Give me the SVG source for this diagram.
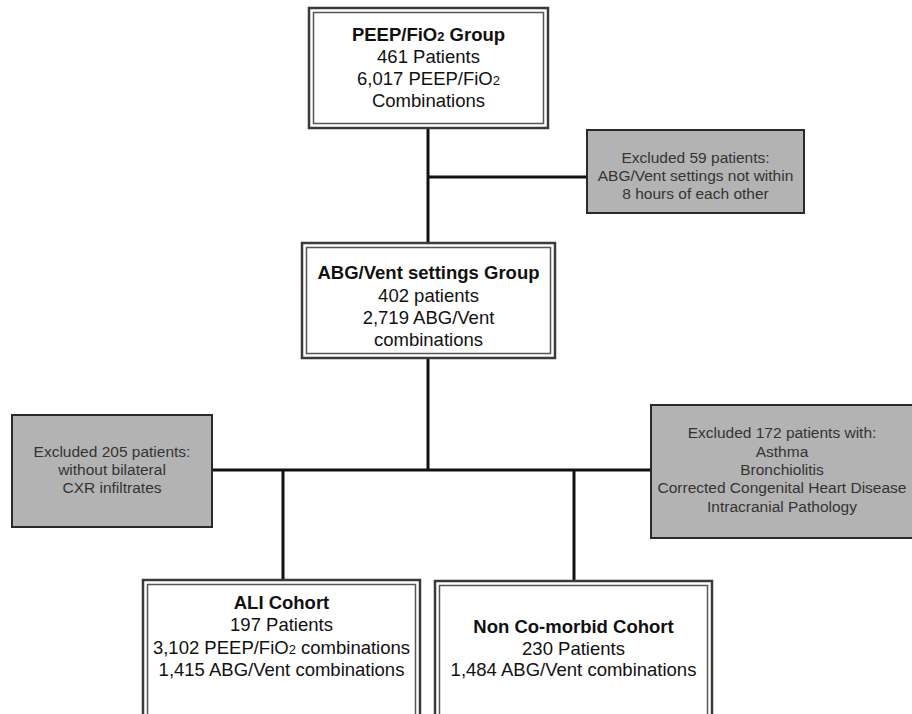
<svg xmlns="http://www.w3.org/2000/svg" width="912" height="714" viewBox="0 0 912 714">
<style>
.bg{fill:#fff}
.outer{fill:#fff;stroke:#3a3a3a;stroke-width:2.5}
.inner{fill:none;stroke:#555;stroke-width:1.5}
.gray{fill:#b3b3b3;stroke:#2a2a2a;stroke-width:2}
.t{font-family:"Liberation Sans",Arial,sans-serif;font-size:18.5px;fill:#111;text-anchor:middle}
.b{font-weight:bold}
.g{font-family:"Liberation Sans",Arial,sans-serif;font-size:15.5px;fill:#333;text-anchor:middle}
.sub{font-size:13px}
.conn{stroke:#111;stroke-width:3;fill:none}
</style>
<rect class="bg" x="0" y="0" width="912" height="714"/>
<g id="connectors">
<line class="conn" x1="428" y1="128" x2="428" y2="243"/>
<line class="conn" x1="428" y1="177" x2="587" y2="177"/>
<line class="conn" x1="428" y1="358" x2="428" y2="470"/>
<line class="conn" x1="212" y1="470" x2="651" y2="470"/>
<line class="conn" x1="283" y1="470" x2="283" y2="580"/>
<line class="conn" x1="574" y1="470" x2="574" y2="581"/>
</g>
<g id="peep">
<rect class="outer" x="309" y="8" width="239" height="120"/>
<rect class="inner" x="313.5" y="12.5" width="230" height="111"/>
<text class="t b" x="428.5" y="41">PEEP/FiO<tspan class="sub">2</tspan> Group</text>
<text class="t" x="428.5" y="63">461 Patients</text>
<text class="t" x="428.5" y="85">6,017 PEEP/FiO<tspan class="sub">2</tspan></text>
<text class="t" x="428.5" y="107">Combinations</text>
</g>
<g id="excl59">
<rect class="gray" x="587" y="130" width="217" height="83"/>
<text class="g" x="695.5" y="163">Excluded 59 patients:</text>
<text class="g" x="695.5" y="181">ABG/Vent settings not within</text>
<text class="g" x="695.5" y="199">8 hours of each other</text>
</g>
<g id="abg">
<rect class="outer" x="302" y="243" width="253" height="115"/>
<rect class="inner" x="306.5" y="247.5" width="244" height="106"/>
<text class="t b" x="428.5" y="279">ABG/Vent settings Group</text>
<text class="t" x="428.5" y="302">402 patients</text>
<text class="t" x="428.5" y="324">2,719 ABG/Vent</text>
<text class="t" x="428.5" y="346">combinations</text>
</g>
<g id="excl205">
<rect class="gray" x="12" y="415" width="200" height="112"/>
<text class="g" x="112" y="457">Excluded 205 patients:</text>
<text class="g" x="112" y="475">without bilateral</text>
<text class="g" x="112" y="493">CXR infiltrates</text>
</g>
<g id="excl172">
<rect class="gray" x="651" y="405" width="264" height="133"/>
<text class="g" x="782" y="438">Excluded 172 patients with:</text>
<text class="g" x="782" y="457">Asthma</text>
<text class="g" x="782" y="475">Bronchiolitis</text>
<text class="g" x="782" y="493">Corrected Congenital Heart Disease</text>
<text class="g" x="782" y="512">Intracranial Pathology</text>
</g>
<g id="ali">
<rect class="outer" x="143" y="580" width="277" height="150"/>
<rect class="inner" x="147.5" y="584.5" width="268" height="150"/>
<text class="t b" x="281.5" y="609">ALI Cohort</text>
<text class="t" x="281.5" y="631">197 Patients</text>
<text class="t" x="281.5" y="654">3,102 PEEP/FiO<tspan class="sub">2</tspan> combinations</text>
<text class="t" x="281.5" y="676">1,415 ABG/Vent combinations</text>
</g>
<g id="noncomorbid">
<rect class="outer" x="435" y="581" width="277" height="150"/>
<rect class="inner" x="439.5" y="585.5" width="268" height="150"/>
<text class="t b" x="573.5" y="633">Non Co-morbid Cohort</text>
<text class="t" x="573.5" y="655">230 Patients</text>
<text class="t" x="573.5" y="676">1,484 ABG/Vent combinations</text>
</g>
</svg>
